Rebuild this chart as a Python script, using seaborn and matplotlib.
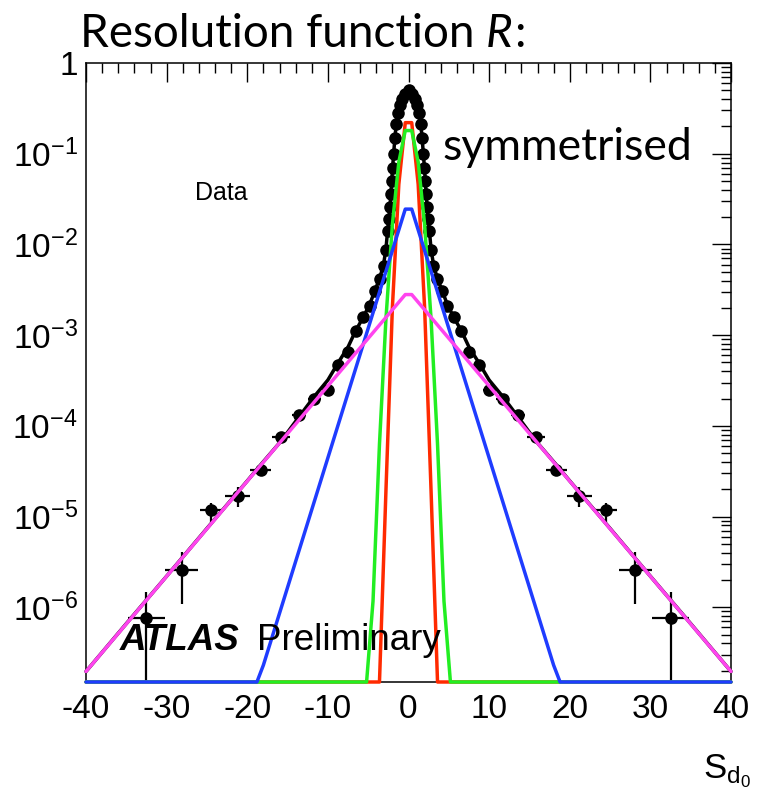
import numpy as np
import pandas as pd
import matplotlib
matplotlib.use("Agg")
import matplotlib.pyplot as plt
import seaborn as sns
from matplotlib.ticker import MultipleLocator, LogLocator, FuncFormatter, NullFormatter

# ---------------- data (symmetrised: positive half, mirrored) ----------------
center_x = [0.0]
center_y = [0.50]

half_x = [0.45, 0.8, 1.1, 1.35, 1.55, 1.7, 1.85, 1.97, 2.08, 2.18, 2.3, 2.45, 2.6,
          2.8, 3.1, 3.55, 4.1, 4.8, 5.6, 6.55, 7.5, 8.7, 10.0, 11.7, 13.6, 15.8,
          18.3, 21.2, 24.5, 28.1, 32.5]
half_y = [0.46, 0.40, 0.34, 0.28, 0.21, 0.15, 0.10, 0.070, 0.050, 0.036, 0.026,
          0.019, 0.014, 0.0087, 0.0058, 0.0042, 0.0031, 0.0021, 0.0016, 0.0011,
          6.6e-4, 4.7e-4, 2.5e-4, 2.0e-4, 1.32e-4, 7.6e-5, 3.3e-5, 1.7e-5,
          1.17e-5, 2.6e-6, 7.6e-7]
half_xerr = [0.2, 0.15, 0.12, 0.1, 0.08, 0.07, 0.07, 0.06, 0.05, 0.05, 0.06, 0.07,
             0.08, 0.1, 0.15, 0.2, 0.25, 0.3, 0.4, 0.45, 0.5, 0.6, 0.7, 0.8, 0.9,
             1.1, 1.3, 1.5, 1.4, 2.05, 2.3]
half_yerr_lo = [0, 0, 0, 0, 0, 0, 0, 0, 0, 0, 0, 0, 0, 0, 0, 0, 0, 0, 0, 0, 0, 0,
                0, 0, 5e-6, 5e-6, 4e-6, 4.4e-6, 3.0e-6, 1.5e-6, 7.599e-7]
half_yerr_hi = [0, 0, 0, 0, 0, 0, 0, 0, 0, 0, 0, 0, 0, 0, 0, 0, 0, 0, 0, 0, 0, 0,
                0, 0, 5e-6, 5e-6, 4e-6, 4.0e-6, 2.3e-6, 1.5e-6, 7.0e-7]

# ---------------- fit curves: drawn polyline vertices (positive half) ----------------
total_x = [0.0, 0.45, 0.8, 1.1, 1.35, 1.55, 1.7, 1.85, 2.0, 2.1, 2.2, 2.3, 2.45, 2.6,
           2.8, 3.1, 3.55, 4.1, 4.8, 5.6, 6.55, 7.5, 8.7, 10.0, 11.7, 13.6, 15.8,
           18.3, 20.0, 25.0, 30.0, 35.0, 40.0]
total_y = [0.48, 0.45, 0.39, 0.33, 0.27, 0.20, 0.145, 0.098, 0.065, 0.048, 0.035,
           0.026, 0.0185, 0.014, 0.0088, 0.0060, 0.0043, 0.0032, 0.0022, 0.00158,
           0.00112, 7.4e-4, 5.0e-4, 3.2e-4, 2.1e-4, 1.25e-4, 6.8e-5, 3.75e-5,
           2.47e-5, 7.4e-6, 2.2e-6, 6.6e-7, 1.96e-7]

red_x = [0.4, 1.2, 2.0, 2.8, 3.6, 40.0]
red_y = [0.22, 0.046, 2.0e-3, 1.9e-5, 4.8e-8, 0.0]

green_x = [0.4, 1.2, 2.0, 2.8, 3.6, 4.4, 5.2, 40.0]
green_y = [0.18, 0.081, 0.0165, 1.5e-3, 6.3e-5, 1.17e-6, 1.0e-8, 0.0]

blue_x = [0.4, 18.0, 18.8, 40.0]
blue_y = [0.0245, 2.3e-7, 1.35e-7, 1.3e-13]

magenta_x = [0.4, 40.0]
magenta_y = [2.8e-3, 1.96e-7]

x_ticks = [-40, -30, -20, -10, 0, 10, 20, 30, 40]
y_ticks = [1e-6, 1e-5, 1e-4, 1e-3, 1e-2, 1e-1, 1]

# ---------------- helpers ----------------
YMIN, YMAX = 1.5e-7, 1.0


def mirror(xs, ys):
    xs = np.asarray(xs, float)
    ys = np.asarray(ys, float)
    return np.concatenate([-xs[::-1], xs]), np.concatenate([ys[::-1], ys])


data_x = np.concatenate([-np.asarray(half_x)[::-1], center_x, half_x])
data_y = np.concatenate([np.asarray(half_y)[::-1], center_y, half_y])
data_xerr = np.concatenate([np.asarray(half_xerr)[::-1], [0.2], half_xerr])
data_ylo = np.concatenate([np.asarray(half_yerr_lo)[::-1], [0], half_yerr_lo])
data_yhi = np.concatenate([np.asarray(half_yerr_hi)[::-1], [0], half_yerr_hi])

tx = np.concatenate([-np.asarray(total_x[1:])[::-1], total_x])
ty = np.concatenate([np.asarray(total_y[1:])[::-1], total_y])

# ---------------- style ----------------
sns.set_style("white")
plt.rcParams["font.family"] = ["Liberation Sans", "DejaVu Sans"]
plt.rcParams["text.color"] = "black"
plt.rcParams["axes.labelcolor"] = "black"
plt.rcParams["xtick.color"] = "black"
plt.rcParams["ytick.color"] = "black"
plt.rcParams["mathtext.fontset"] = "custom"
plt.rcParams["mathtext.rm"] = "Liberation Sans"
plt.rcParams["mathtext.it"] = "Liberation Sans:italic"
plt.rcParams["mathtext.bf"] = "Liberation Sans:bold"
plt.rcParams["axes.unicode_minus"] = False

fig = plt.figure(figsize=(7.6, 7.91), dpi=100)
ax = fig.add_axes([86 / 760, 1 - 682 / 791, (731 - 86) / 760, (682 - 63) / 791])
ax.set_yscale("log")

# data points with error bars
ax.errorbar(data_x, data_y, xerr=data_xerr, yerr=[data_ylo, data_yhi], fmt="none",
            ecolor="black", elinewidth=1.6, capsize=0, zorder=3)
sns.scatterplot(x=data_x, y=data_y, color="black", s=82, linewidth=0, ax=ax,
                zorder=4, legend=False)

# curves
curves = [
    (tx, ty, "black", 5),
    (*mirror(red_x, red_y), "#ff2a00", 6),
    (*mirror(green_x, green_y), "#22ee22", 7),
    (*mirror(blue_x, blue_y), "#1f3cff", 8),
    (*mirror(magenta_x, magenta_y), "#ff44ee", 9),
]
for cx, cy, col, z in curves:
    cy = np.maximum(cy, YMIN)
    df = pd.DataFrame({"x": cx, "y": cy})
    sns.lineplot(data=df, x="x", y="y", color=col, linewidth=2.5, estimator=None,
                 sort=False, ax=ax, zorder=z, legend=False)
for line in ax.lines:
    line.set_clip_on(False)

ax.set_xlim(-40, 40)
ax.set_ylim(YMIN, YMAX)
ax.set_xlabel("")
ax.set_ylabel("")

# ticks
ax.set_xticks(x_ticks)
ax.xaxis.set_minor_locator(MultipleLocator(2))
ax.yaxis.set_minor_locator(LogLocator(base=10, subs=np.arange(2, 10)))
ax.yaxis.set_minor_formatter(NullFormatter())
ax.set_yticks(y_ticks)


def yfmt(v, pos):
    if abs(v - 1) < 1e-9:
        return "1"
    e = int(round(np.log10(v)))
    return r"$\mathregular{10^{%d}}$" % e


ax.yaxis.set_major_formatter(FuncFormatter(yfmt))
ax.set_ylim(YMIN, YMAX)
ax.tick_params(which="both", direction="in", top=True, right=True, width=1.0,
               colors="black", labelsize=24)
ax.tick_params(which="major", length=14)
ax.tick_params(which="minor", length=7)
ax.tick_params(axis="x", which="major", pad=9)
ax.tick_params(axis="y", which="major", pad=6)
for sp in ax.spines.values():
    sp.set_linewidth(1.1)
    sp.set_color("black")

# texts
title_fs = 33
t1 = fig.text(80 / 760, 1 - 47 / 791, "Resolution function ", fontsize=title_fs,
              family=["Lato", "DejaVu Sans"], va="baseline", ha="left")
fig.canvas.draw()
r = fig.canvas.get_renderer()
bb = t1.get_window_extent(renderer=r)
t2 = fig.text(bb.x1 / fig.bbox.width, 1 - 47 / 791, "R", fontsize=title_fs,
              family=["Lato", "DejaVu Sans"], style="italic", va="baseline", ha="left")
bb2 = t2.get_window_extent(renderer=r)
fig.text(bb2.x1 / fig.bbox.width + 0.002, 1 - 47 / 791, ":", fontsize=title_fs,
         family=["Lato", "DejaVu Sans"], va="baseline", ha="left")

ax.text((442 - 86) / 645, (682 - 160) / 619, "symmetrised", transform=ax.transAxes,
        fontsize=32, family=["Lato", "DejaVu Sans"], va="baseline", ha="left", zorder=10)
ax.text((195 - 86) / 645, (682 - 200) / 619, "Data", transform=ax.transAxes,
        fontsize=18, va="baseline", ha="left")
ax.text((120 - 86) / 645, (682 - 650) / 619, "ATLAS", transform=ax.transAxes,
        fontsize=26.5, fontweight="bold", style="italic", va="baseline", ha="left",
        zorder=10)
ax.text((257 - 86) / 645, (682 - 650) / 619, "Preliminary", transform=ax.transAxes,
        fontsize=26.5, va="baseline", ha="left", zorder=10)

fig.text(703 / 760, 1 - 778 / 791, r"$\mathregular{S_{d_0}}$", fontsize=25,
         va="baseline", ha="left")

fig.savefig("out.png", dpi=100, facecolor="white")
